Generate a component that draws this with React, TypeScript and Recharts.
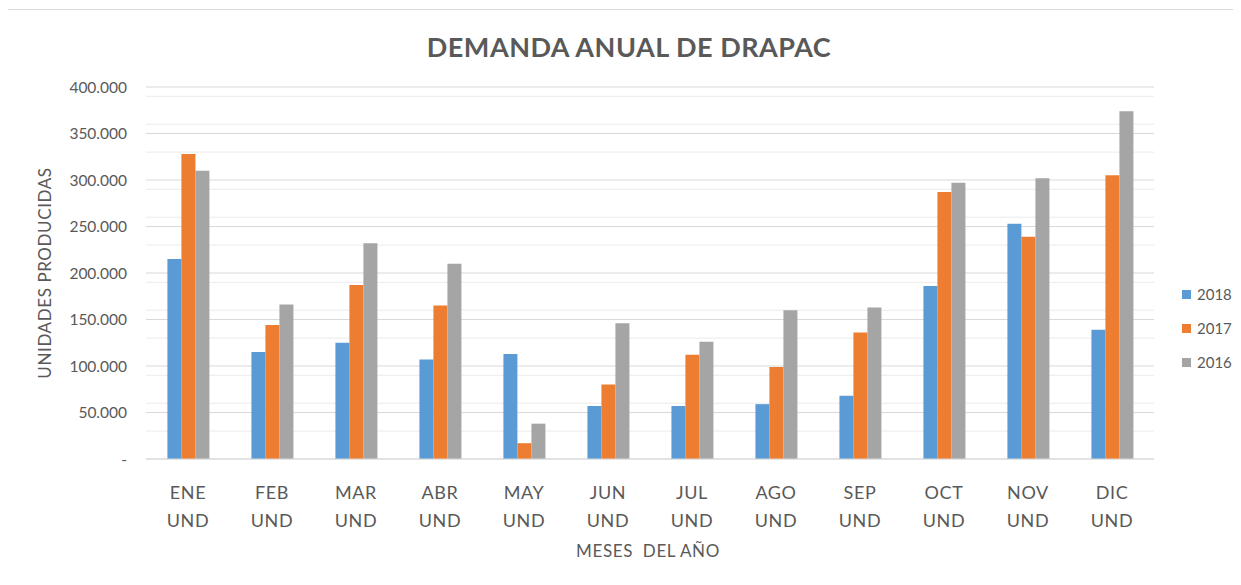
import React from 'react';
import { BarChart, Bar, XAxis, YAxis, CartesianGrid } from 'recharts';

const months = ['ENE', 'FEB', 'MAR', 'ABR', 'MAY', 'JUN', 'JUL', 'AGO', 'SEP', 'OCT', 'NOV', 'DIC'];
const unitLabel = 'UND';
const s2018 = [215000, 115000, 125000, 107000, 113000, 57000, 57000, 59000, 68000, 186000, 253000, 139000];
const s2017 = [328000, 144000, 187000, 165000, 17000, 80000, 112000, 99000, 136000, 287000, 239000, 305000];
const s2016 = [310000, 166000, 232000, 210000, 38000, 146000, 126000, 160000, 163000, 297000, 302000, 374000];
const yTicks = [0, 50000, 100000, 150000, 200000, 250000, 300000, 350000, 400000];
const minorTicks = [
  10000, 20000, 30000, 40000, 60000, 70000, 80000, 90000, 110000, 120000, 130000, 140000,
  160000, 170000, 180000, 190000, 210000, 220000, 230000, 240000, 260000, 270000, 280000, 290000,
  310000, 320000, 330000, 340000, 360000, 370000, 380000, 390000,
];
const seriesNames = ['2018', '2017', '2016'];
const seriesColors = ['#5B9BD5', '#ED7D31', '#A5A5A5'];

const data = months.map((m, i) => ({
  name: m,
  y2018: s2018[i],
  y2017: s2017[i],
  y2016: s2016[i],
}));

const fmt = (v: number) => {
  if (v === 0) return '-';
  return v.toLocaleString('en-US').replace(/,/g, '.');
};

const FONT = 'Lato, "Open Sans", sans-serif';
const TEXT = '#595959';

const MonthTick = (props: any) => {
  const { x, y, payload } = props;
  return (
    <text x={x} y={y} textAnchor="middle" fill={TEXT} fontSize={18} fontFamily={FONT} letterSpacing={0.6}>
      <tspan x={x} dy={32}>{payload.value}</tspan>
      <tspan x={x} dy={28}>{unitLabel}</tspan>
    </text>
  );
};

export default function App() {
  return (
    <div
      style={{
        position: 'relative',
        width: 1241,
        height: 585,
        margin: -8,
        overflow: 'hidden',
        background: '#ffffff',
        fontFamily: FONT,
      }}
    >
      <div
        style={{
          position: 'absolute',
          left: 7,
          top: 9,
          width: 1300,
          height: 700,
          borderTop: '1px solid #d9d9d9',
          borderLeft: '1px solid #d9d9d9',
          boxSizing: 'border-box',
        }}
      />
      <div
        style={{
          position: 'absolute',
          left: 0,
          width: 1258,
          top: 30,
          textAlign: 'center',
          fontSize: 27,
          fontWeight: 700,
          color: TEXT,
          letterSpacing: 0.5,
          lineHeight: '34px',
        }}
      >
        DEMANDA ANUAL DE DRAPAC
      </div>
      <div
        style={{
          position: 'absolute',
          left: 45,
          top: 273,
          transform: 'translate(-50%, -50%) rotate(-90deg)',
          whiteSpace: 'nowrap',
          fontSize: 17,
          letterSpacing: 0.6,
          color: TEXT,
          lineHeight: '20px',
        }}
      >
        UNIDADES PRODUCIDAS
      </div>
      <div
        style={{
          position: 'absolute',
          left: 648,
          top: 551,
          transform: 'translate(-50%, -50%)',
          whiteSpace: 'pre',
          fontSize: 17,
          letterSpacing: 0.6,
          color: TEXT,
          lineHeight: '20px',
        }}
      >
        {'MESES  DEL AÑO'}
      </div>
      <div style={{ position: 'absolute', left: 0, top: 0 }}>
        <BarChart
          width={1241}
          height={585}
          data={data}
          margin={{ top: 87, right: 87, bottom: 0, left: 0 }}
          barCategoryGap="25.5%"
          barGap={0}
        >
          <CartesianGrid vertical={false} horizontalValues={minorTicks} stroke="#ebebeb" />
          <CartesianGrid vertical={false} horizontalValues={yTicks} stroke="#d9d9d9" />
          <XAxis
            dataKey="name"
            axisLine={{ stroke: '#d9d9d9' }}
            tickLine={false}
            tick={<MonthTick />}
            interval={0}
            height={126}
          />
          <YAxis
            width={146}
            domain={[0, 400000]}
            ticks={yTicks}
            tickFormatter={fmt}
            axisLine={false}
            tickLine={false}
            tickMargin={13}
            tick={{ fill: TEXT, fontSize: 15.5, fontFamily: FONT }}
          />
          <Bar dataKey="y2018" name={seriesNames[0]} fill={seriesColors[0]} isAnimationActive={false} />
          <Bar dataKey="y2017" name={seriesNames[1]} fill={seriesColors[1]} isAnimationActive={false} />
          <Bar dataKey="y2016" name={seriesNames[2]} fill={seriesColors[2]} isAnimationActive={false} />
        </BarChart>
      </div>
      {seriesNames.map((n, i) => (
        <div
          key={n}
          style={{
            position: 'absolute',
            left: 1182,
            top: 294 + i * 34 - 10,
            height: 20,
            display: 'flex',
            alignItems: 'center',
            fontSize: 15,
            color: TEXT,
          }}
        >
          <span
            style={{
              display: 'inline-block',
              width: 9,
              height: 9,
              background: seriesColors[i],
              marginRight: 6,
            }}
          />
          {n}
        </div>
      ))}
    </div>
  );
}
